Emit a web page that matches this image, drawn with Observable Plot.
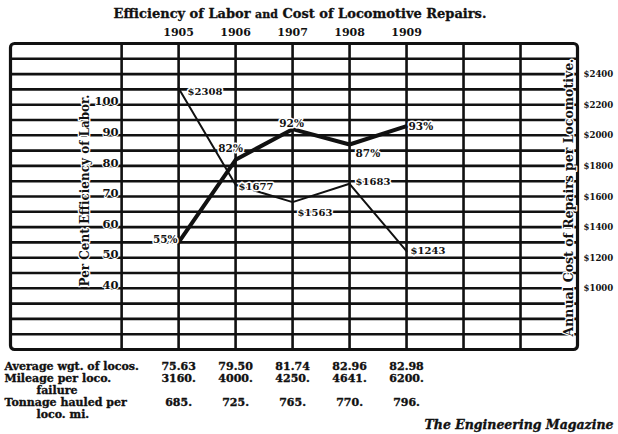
<!DOCTYPE html>
<html><head><meta charset="utf-8">
<script src="https://cdn.jsdelivr.net/npm/d3@7"></script>
<script src="https://cdn.jsdelivr.net/npm/@observablehq/plot@0.6"></script>
<style>
body{margin:0;background:#fff;}
#chart{position:relative;width:618px;height:434px;overflow:hidden;font-family:"DejaVu Serif",serif;font-weight:bold;color:#111;background:#fff;}
#chart svg{position:absolute;left:0;}
#chart svg g[aria-label="x-axis"] text, #chart svg g[aria-label="y-axis"] text{stroke:#111;stroke-width:0.3px;}
#title{position:absolute;left:0;top:6px;width:600px;text-align:center;font-size:13px;line-height:16px;-webkit-text-stroke:0.3px #111;}
</style></head><body>
<div id="chart"><div id="title">Efficiency of Labor <span style="font-size:11px">and</span> Cost of Locomotive Repairs.</div></div>
<script>
// ---- data ----
const years = [1905, 1906, 1907, 1908, 1909];
const efficiency = [55, 82, 92, 87, 93];
const repairCost = [2308, 1677, 1563, 1683, 1243];
const effTicks = [40, 50, 60, 70, 80, 90, 100];
const costTicks = [1000, 1200, 1400, 1600, 1800, 2000, 2200, 2400];
const avgWeight = ["75.63", "79.50", "81.74", "82.96", "82.98"];
const mileage = ["3160.", "4000.", "4250.", "4641.", "6200."];
const tonnage = ["685.", "725.", "765.", "770.", "796."];
const rowLabels = ["Average wgt. of locos.", "Mileage per loco.", "failure", "Tonnage hauled per", "loco. mi."];
const leftTitle = "Per Cent Efficiency of Labor.";
const rightTitle = "Annual Cost of Repairs per Locomotive.";
const credit = "The Engineering Magazine";

// ---- layout ----
const W = 618, H = 434;
const M = {top: 43, bottom: 85, left: 10, right: 41};
const xDomain = [1902.05, 1912];
const effDomain = [20, 120];
const costDomain = [600, 2600];
const ink = "#111";
const font = "DejaVu Serif";
const effOff = [[-1, -3, "end"], [-5, -11, "middle"], [-1, -6, "middle"], [6, 9, "start"], [2, 1, "start"]];
const costOff = [[9, 4, "start"], [3, 2, "start"], [5, 11, "start"], [6, -2, "start"], [4, 0, "start"]];
const idx = years.map((d, i) => i);
const chart = document.getElementById("chart");
const heavy = {fontWeight: "bold", fontFamily: font, fill: ink, stroke: ink, strokeWidth: 0.35};

const main = Plot.plot({
  width: W, height: H,
  marginTop: M.top, marginBottom: M.bottom, marginLeft: M.left, marginRight: M.right,
  style: {background: "transparent", fontFamily: font, fontWeight: "bold", fontSize: "11px", color: ink, overflow: "visible"},
  x: {domain: xDomain, axis: "top", ticks: years, tickSize: 0, tickPadding: 8, tickFormat: d => String(d), label: null},
  y: {domain: effDomain, axis: null},
  marks: [
    Plot.ruleY(d3.range(25, 120, 5), {stroke: ink, strokeWidth: 2.6}),
    Plot.ruleX(d3.range(1904, 1912), {stroke: ink, strokeWidth: 2.6}),
    Plot.frame({stroke: ink, strokeWidth: 3.2, rx: 4}),
    Plot.line(idx, {x: i => years[i], y: i => efficiency[i], stroke: ink, strokeWidth: 4, strokeLinejoin: "round"}),
    ...idx.map(i => Plot.text([i], {x: j => years[j], y: j => efficiency[j], text: j => efficiency[j] + "%",
      dx: effOff[i][0], dy: effOff[i][1], textAnchor: effOff[i][2], fontSize: 10.5, fontWeight: "bold", fontFamily: font,
      fill: ink, stroke: "white", strokeWidth: 3})),
    Plot.text(effTicks, {y: d => d, text: d => String(d), frameAnchor: "left", dx: 108, dy: -3, textAnchor: "end",
      fontSize: 11.5, fontWeight: "bold", fontFamily: font, fill: ink, stroke: "white", strokeWidth: 2}),
    Plot.text([leftTitle], {text: d => d, frameAnchor: "left", dx: 75, dy: -6, rotate: -90, textAnchor: "middle",
      fontSize: 12, fontWeight: "bold", fontFamily: font, fill: ink, stroke: "white", strokeWidth: 2.5})
  ]
});
main.style.top = "0px";
chart.appendChild(main);

const cost = Plot.plot({
  width: W, height: H,
  marginTop: M.top, marginBottom: M.bottom, marginLeft: M.left, marginRight: M.right,
  style: {background: "transparent", fontFamily: "DejaVu Serif Condensed, DejaVu Serif", fontWeight: "bold", fontSize: "9.5px", color: ink, overflow: "visible"},
  x: {domain: xDomain, axis: null},
  y: {domain: costDomain, axis: "right", ticks: costTicks, tickSize: 0, tickPadding: 6, tickFormat: d => "$" + d, label: null},
  marks: [
    Plot.line(idx, {x: i => years[i], y: i => repairCost[i], stroke: ink, strokeWidth: 2}),
    ...idx.map(i => Plot.text([i], {x: j => years[j], y: j => repairCost[j], text: j => "$" + repairCost[j],
      dx: costOff[i][0], dy: costOff[i][1], textAnchor: costOff[i][2], fontSize: 10, fontWeight: "bold", fontFamily: font,
      fill: ink, stroke: "white", strokeWidth: 3})),
    Plot.text([rightTitle], {text: d => d, frameAnchor: "right", dx: -9, dy: 1, rotate: -90, textAnchor: "middle",
      fontSize: 12.5, fontWeight: "bold", fontFamily: font, fill: ink, stroke: "white", strokeWidth: 2.5})
  ]
});
cost.style.top = "0px";
chart.appendChild(cost);

const rowKeys = ["r0", "r1", "r2", "r3", "r4"];
const table = Plot.plot({
  width: W, height: 85,
  marginTop: 16, marginBottom: 20, marginLeft: M.left, marginRight: M.right,
  style: {background: "transparent", fontFamily: font, fontWeight: "bold", fontSize: "11px", color: ink, overflow: "visible"},
  x: {domain: xDomain, axis: null},
  y: {type: "point", domain: rowKeys, padding: 0, axis: null},
  marks: [
    Plot.text([0, 1, 3], {y: i => rowKeys[i], text: i => rowLabels[i], frameAnchor: "left", dx: -6, textAnchor: "start",
      fontSize: 11, ...heavy}),
    Plot.text([2, 4], {y: i => rowKeys[i], text: i => rowLabels[i], frameAnchor: "left", dx: 26, textAnchor: "start",
      fontSize: 11, ...heavy}),
    Plot.text(idx, {x: i => years[i], y: () => "r0", text: i => avgWeight[i], fontSize: 11, ...heavy}),
    Plot.text(idx, {x: i => years[i], y: () => "r1", text: i => mileage[i], fontSize: 11, ...heavy}),
    Plot.text(idx, {x: i => years[i], y: () => "r3", text: i => tonnage[i], fontSize: 11, ...heavy}),
    Plot.text([credit], {text: d => d, frameAnchor: "bottom-right", lineAnchor: "middle", dx: 36, dy: 10, textAnchor: "end",
      fontSize: 12.5, fontStyle: "italic", ...heavy})
  ]
});
table.style.top = "349px";
chart.appendChild(table);
</script>
</body></html>
